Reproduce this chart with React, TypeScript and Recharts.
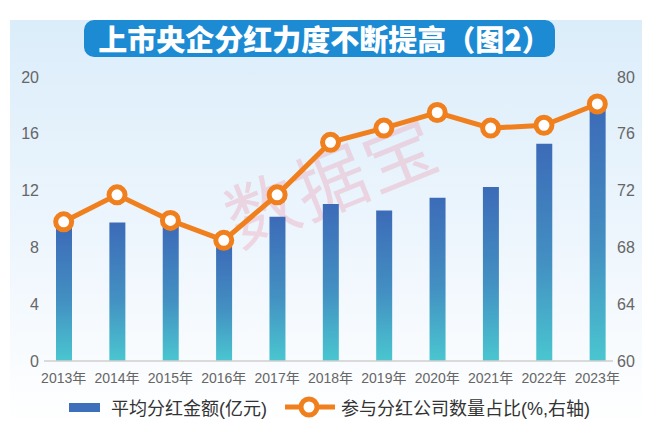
import React from 'react';
import { ComposedChart, Bar, Line, XAxis, YAxis, Legend } from 'recharts';

// values
const years = ['2013年', '2014年', '2015年', '2016年', '2017年', '2018年', '2019年', '2020年', '2021年', '2022年', '2023年'];
const avgDividend = [9.4, 9.75, 9.5, 8.1, 10.15, 11.05, 10.6, 11.5, 12.25, 15.3, 17.8];
const payoutShare = [69.8, 71.7, 69.9, 68.5, 71.7, 75.4, 76.4, 77.5, 76.4, 76.6, 78.1];
const leftTicks = [0, 4, 8, 12, 16, 20];
const rightTicks = [60, 64, 68, 72, 76, 80];

const title = '上市央企分红力度不断提高（图2）';
const barName = '平均分红金额(亿元)';
const lineName = '参与分红公司数量占比(%,右轴)';
const watermark = '数据宝';

const ORANGE = '#F0801E';
const FONT = "'Liberation Sans', 'Noto Sans CJK SC', sans-serif";

const data = years.map((year, i) => ({
  year,
  avg: avgDividend[i],
  share: payoutShare[i],
}));

function LegendContent() {
  return (
    <div
      style={{
        height: 26,
        display: 'flex',
        alignItems: 'center',
        paddingLeft: 69,
        fontFamily: FONT,
        fontSize: 18,
        color: '#333',
        whiteSpace: 'nowrap',
      }}
    >
      <div style={{ width: 31, height: 9, background: '#3D6FBA', marginRight: 11 }} />
      <span>{barName}</span>
      <svg width={50} height={26} style={{ marginLeft: 18, marginRight: 6 }}>
        <line x1={0} y1={13} x2={50} y2={13} stroke={ORANGE} strokeWidth={5} />
        <circle cx={24} cy={13} r={8} fill="#fff" stroke={ORANGE} strokeWidth={5} />
      </svg>
      <span>{lineName}</span>
    </div>
  );
}

export default function App() {
  return (
    <div style={{ position: 'absolute', left: 0, top: 0, width: 660, height: 433, background: '#fff', overflow: 'hidden' }}>
      {/* light blue panel */}
      <div
        style={{
          position: 'absolute',
          left: 10,
          top: 20,
          width: 632,
          height: 405,
          background: 'linear-gradient(#DBEDFA 0%, #EEF6FD 55%, #FFFFFF 100%)',
        }}
      />
      {/* title banner */}
      <div
        style={{
          position: 'absolute',
          left: 84,
          top: 20,
          width: 471,
          height: 37,
          borderRadius: 10,
          background: '#1C8BD3',
          color: '#fff',
          fontFamily: "'Noto Sans CJK SC', sans-serif",
          fontWeight: 900,
          fontSize: 29,
          lineHeight: '37px',
          textAlign: 'center',
          whiteSpace: 'nowrap',
          paddingLeft: 10,
          boxSizing: 'border-box',
        }}
      >
        {title}
      </div>
      {/* watermark */}
      <div
        style={{
          position: 'absolute',
          left: 246,
          top: 166,
          fontFamily: "'Noto Sans CJK SC', sans-serif",
          fontSize: 72,
          color: 'rgba(236, 150, 172, 0.33)',
          transform: 'rotate(-22deg)',
          transformOrigin: 'left bottom',
          letterSpacing: 2,
          whiteSpace: 'nowrap',
          lineHeight: '100px',
        }}
      >
        {watermark}
      </div>
      <ComposedChart
        width={660}
        height={433}
        data={data}
        margin={{ top: 77, right: 0, bottom: 13, left: 0 }}
        style={{ position: 'absolute', left: 0, top: 0 }}
      >
        <defs>
          <linearGradient id="barFill" x1="0" y1="0" x2="0" y2="1">
            <stop offset="0%" stopColor="#3C6BB8" />
            <stop offset="55%" stopColor="#4390C2" />
            <stop offset="100%" stopColor="#4AC6D0" />
          </linearGradient>
        </defs>
        <XAxis
          dataKey="year"
          height={33}
          padding={{ left: -7, right: -11 }}
          axisLine={{ stroke: '#CFCFCF', strokeWidth: 1.5 }}
          tickLine={false}
          tickSize={0}
          tickMargin={12}
          interval={0}
          tick={{ fill: '#666', fontSize: 14, fontFamily: FONT }}
        />
        <YAxis
          yAxisId="left"
          width={44}
          domain={[0, 20]}
          ticks={leftTicks}
          axisLine={false}
          tickLine={false}
          tickSize={0}
          tickMargin={5}
          tick={{ fill: '#666', fontSize: 16, fontFamily: FONT }}
        />
        <YAxis
          yAxisId="right"
          orientation="right"
          width={47}
          domain={[60, 80]}
          ticks={rightTicks}
          axisLine={false}
          tickLine={false}
          tickSize={0}
          tickMargin={4}
          tick={{ fill: '#666', fontSize: 16, fontFamily: FONT }}
        />
        <Legend verticalAlign="bottom" content={() => <LegendContent />} />
        <Bar
          yAxisId="left"
          dataKey="avg"
          name={barName}
          barSize={16}
          fill="url(#barFill)"
          isAnimationActive={false}
        />
        <Line
          yAxisId="right"
          dataKey="share"
          name={lineName}
          type="linear"
          stroke={ORANGE}
          strokeWidth={5}
          dot={{ r: 8, fill: '#fff', stroke: ORANGE, strokeWidth: 5 }}
          activeDot={false}
          isAnimationActive={false}
        />
      </ComposedChart>
    </div>
  );
}
